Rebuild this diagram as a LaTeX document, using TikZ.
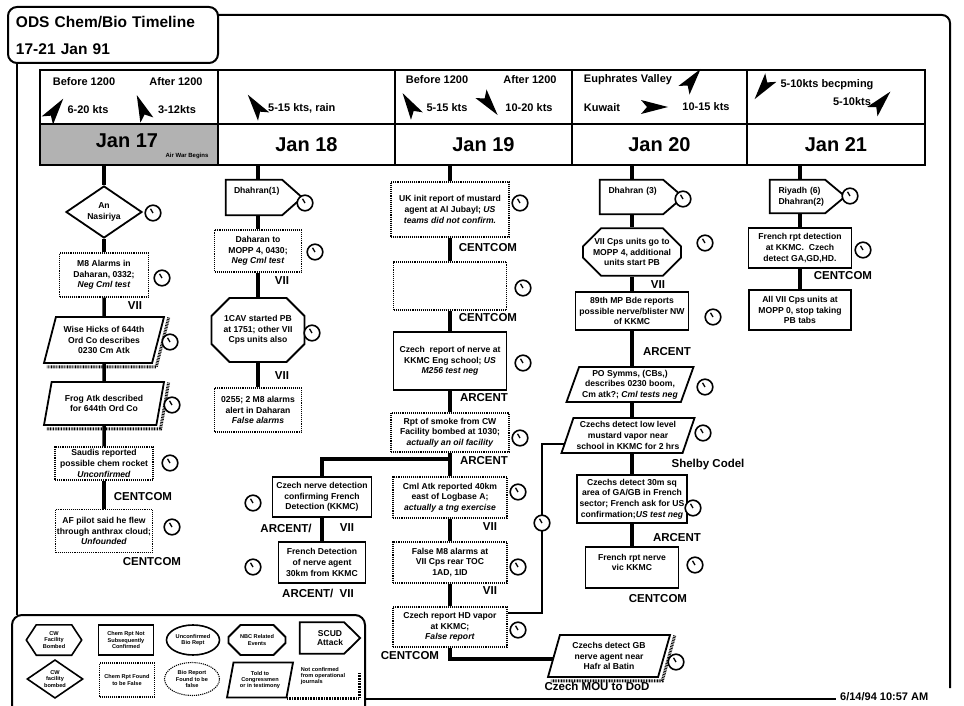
\documentclass[tikz,border=0pt]{standalone}
\usepackage{fontspec}
\setmainfont{Liberation Sans}
\usetikzlibrary{shapes.geometric,shapes.misc}
\newcommand\bxf{\fontsize{8.6}{10.6}\selectfont\bfseries}
\newcommand\lgf{\fontsize{5.6}{6.4}\selectfont\bfseries}
\newcommand\lbf{\fontsize{11.5}{12}\selectfont\bfseries}
\newcommand\hdf{\fontsize{11}{12}\selectfont\bfseries}
\newcommand\jnf{\fontsize{20}{22}\selectfont\bfseries}
\newcommand\ttlf{\fontsize{15.5}{27}\selectfont\bfseries}
\newcommand\pentout[2]{\draw[line width=1.8pt] (#1.north west) -- ([xshift=-#2]#1.north east) -- (#1.east) -- ([xshift=-#2]#1.south east) -- (#1.south west) -- cycle;}
\newcommand\shadowpar[1]{\draw[hatch] ([xshift=3.5pt,yshift=-1.5pt]#1.top right corner) -- ([xshift=3.5pt,yshift=-3pt]#1.bottom right corner) -- ([xshift=4pt,yshift=-3pt]#1.bottom left corner);}
\tikzset{
  conn/.style={line width=3.5pt},
  thinconn/.style={line width=2pt},
  frame/.style={line width=2pt},
  hatch/.style={line width=3pt,dash pattern=on 0.8pt off 0.8pt},
  solidbox/.style={draw,line width=1.8pt,rectangle,inner sep=1pt,align=center,font=\bxf},
  dotbox/.style={draw,line width=1.1pt,densely dotted,rectangle,inner sep=1pt,align=center,font=\bxf},
  para/.style={draw,line width=1.8pt,trapezium,trapezium left angle=68,trapezium right angle=112,trapezium stretches body,inner sep=1pt,align=center,font=\bxf},
  octo/.style={draw,line width=1.8pt,chamfered rectangle,chamfered rectangle xsep=9pt,chamfered rectangle ysep=9pt,inner sep=1pt,align=center,font=\bxf},
  pentnode/.style={rectangle,inner sep=2pt,align=left,font=\bxf},
  lbl/.style={inner sep=0pt,font=\lbf},
  hdr/.style={inner sep=0pt,font=\hdf},
  cell/.style={draw,line width=1.8pt,rectangle,inner sep=0pt,font=\jnf},
  clock/.pic={\draw[line width=1.6pt,fill=white] (0,0) circle[radius=7.8]; \draw[line width=1.3pt] (0,0) -- (-2.5,-4.2);},
  wind/.pic={\fill (14,0) -- (-13,-7) -- (-7,0) -- (-13,7) -- cycle;},
}
\begin{document}
\begin{tikzpicture}[x=1pt,y=-1pt]
\useasboundingbox (0,0) rectangle (964,706);
% ---------- frame and title ----------
\node[draw,line width=2pt,rounded corners=9,minimum width=210,minimum height=56,align=left,text width=194,inner sep=7pt,font=\ttlf] (title) at (113,35) {ODS Chem/Bio Timeline\\17-21 Jan 91};
\draw[frame,rounded corners=8] (218,15) -- (950,15) -- (950,688);
\draw[frame] (17,63) -- (17,615);
\draw[frame] (365,699) -- (836,699);
\node[anchor=west,inner sep=0pt,font=\fontsize{11}{12}\selectfont\bfseries] (ts) at (840,697) {6/14/94 10:57 AM};
% ---------- header table ----------
\node[cell,minimum width=178,minimum height=54] (w17) at (129,97) {};
\node[cell,minimum width=177,minimum height=54] (w18) at (306.5,97) {};
\node[cell,minimum width=177,minimum height=54] (w19) at (483.5,97) {};
\node[cell,minimum width=175,minimum height=54] (w20) at (659.5,97) {};
\node[cell,minimum width=178,minimum height=54] (w21) at (836,97) {};
\node[cell,minimum width=178,minimum height=41,fill=black!30] (d17) at (129,144.5) {};
\node[cell,minimum width=177,minimum height=41] (d18) at (306.5,144.5) {Jan 18};
\node[cell,minimum width=177,minimum height=41] (d19) at (483.5,144.5) {Jan 19};
\node[cell,minimum width=175,minimum height=41] (d20) at (659.5,144.5) {Jan 20};
\node[cell,minimum width=178,minimum height=41] (d21) at (836,144.5) {Jan 21};
\node[inner sep=0pt,font=\jnf] (j17) at (127,141) {Jan 17};
\node[inner sep=0pt,font=\fontsize{6}{7}\selectfont\bfseries] (awb) at (187,156) {Air War Begins};
% weather
\node[hdr] (b17) at (84,82) {Before 1200};
\node[hdr] (a17) at (176,82) {After 1200};
\node[hdr] (k17a) at (88,110) {6-20 kts};
\node[hdr] (k17b) at (177,110) {3-12kts};
\pic[rotate=54] at (55,110) {wind};
\pic[rotate=112] at (142,108) {wind};
\node[hdr,anchor=west] (k18) at (268,108) {5-15 kts, rain};
\pic[rotate=126] at (256,106) {wind};
\node[hdr] (b19) at (437,80) {Before 1200};
\node[hdr] (a19) at (530,80) {After 1200};
\node[hdr] (k19a) at (447,108) {5-15 kts};
\node[hdr] (k19b) at (529,108) {10-20 kts};
\pic[rotate=122] at (410,105) {wind};
\pic[rotate=-52] at (489,104) {wind};
\node[hdr] (eu) at (628,80) {Euphrates Valley};
\node[hdr] (kw) at (602,108) {Kuwait};
\node[hdr] (k20) at (706,107) {10-15 kts};
\pic[rotate=52] at (692,80) {wind};
\pic[rotate=0] at (654,107) {wind};
\node[hdr] (k21a) at (827,85) {5-10kts becpming};
\node[hdr] (k21b) at (852,102) {5-10kts};
\pic[rotate=233] at (763,88) {wind};
\pic[rotate=48] at (881,102) {wind};
% ---------- column Jan 17 ----------
\node[diamond,draw,line width=1.8pt,minimum width=76,minimum height=52,inner sep=0pt,align=center,font=\bxf] (an) at (104,212) {An\\Nasiriya};
\node[dotbox,minimum width=89,minimum height=44] (m8) at (104,275) {M8 Alarms in\\Daharan, 0332;\\\textit{Neg Cml test}};
\node[lbl] (vii1) at (135,306) {VII};
\node[para,minimum width=120,minimum height=46] (wise) at (104,340) {Wise Hicks of 644th\\Ord Co describes\\0230 Cm Atk};
\node[para,minimum width=120,minimum height=43] (frog) at (104,403.5) {Frog Atk described\\for 644th Ord Co};
\node[dotbox,minimum width=98,minimum height=33] (saudi) at (104,463.5) {Saudis reported\\possible chem rocket\\\textit{Unconfirmed}};
\node[lbl] (cc1) at (143,497) {CENTCOM};
\node[dotbox,minimum width=97,minimum height=43] (af) at (104,531) {AF pilot said he flew\\through anthrax cloud;\\\textit{Unfounded}};
\node[lbl] (cc2) at (152,562) {CENTCOM};
\shadowpar{wise}
\shadowpar{frog}
\draw[conn] (an.north |- d17.south) -- (an.north);
\draw[conn] (an.south) -- (m8.north);
\draw[conn] (m8.south) -- (wise.north);
\draw[conn] (wise.south) -- (frog.north);
\draw[conn] (frog.south) -- (saudi.north);
\draw[conn] (saudi.south) -- (af.north);
% ---------- column Jan 18 ----------
\node[pentnode,minimum width=76,minimum height=35,text width=60] (dh1) at (264,197.5) {Dhahran(1)\\[3pt]\mbox{}};
\pentout{dh1}{20}
\node[dotbox,minimum width=87,minimum height=42] (dm) at (258,251) {Daharan to\\MOPP 4, 0430;\\\textit{Neg Cml test}};
\node[lbl] (vii2) at (282,281) {VII};
\node[octo,minimum width=93,minimum height=64] (cav) at (258,330) {1CAV started PB\\at 1751; other VII\\Cps units also};
\node[lbl] (vii3) at (282,376) {VII};
\node[dotbox,minimum width=87,minimum height=44] (m8b) at (258,410) {0255; 2 M8 alarms\\alert in Daharan\\\textit{False alarms}};
\draw[conn] (dm.north |- d18.south) -- (dm.north |- dh1.north);
\draw[conn] (dm.north |- dh1.south) -- (dm.north);
\draw[conn] (dm.south) -- (cav.north);
\draw[conn] (cav.south) -- (m8b.north);
% ---------- column Jan 19 ----------
\node[dotbox,minimum width=118,minimum height=55] (uk) at (450,209.5) {UK init report of mustard\\agent at Al Jubayl; \textit{US}\\\textit{teams did not confirm.}};
\node[lbl] (cc3) at (488,248) {CENTCOM};
\node[dotbox,minimum width=113,minimum height=48] (empty) at (450,286) {};
\node[lbl] (cc4) at (488,318) {CENTCOM};
\node[solidbox,minimum width=113,minimum height=58] (czr) at (450,361) {Czech\ \ report of nerve at\\KKMC Eng school; \textit{US}\\\textit{M256 test neg}};
\node[lbl] (ar1) at (484,398) {ARCENT};
\node[dotbox,minimum width=118,minimum height=39] (smoke) at (450,432.5) {Rpt of smoke from CW\\Facility bombed at 1030;\\\textit{actually an oil facility}};
\node[lbl] (ar2) at (484,461) {ARCENT};
\node[dotbox,minimum width=114,minimum height=41] (cml) at (450,497.5) {Cml Atk reported 40km\\east of Logbase A;\\\textit{actually a tng exercise}};
\node[lbl] (vii4) at (490,527) {VII};
\node[dotbox,minimum width=114,minimum height=41] (fm8) at (450,562.5) {False M8 alarms at\\VII Cps rear TOC\\1AD, 1ID};
\node[lbl] (vii5) at (490,591) {VII};
\node[dotbox,minimum width=114,minimum height=40] (hd) at (450,627) {Czech report HD vapor\\at KKMC;\\\textit{False report}};
\node[lbl] (cc5) at (410,656) {CENTCOM};
\draw[conn] (uk.north |- d19.south) -- (uk.north);
\draw[conn] (uk.south) -- (empty.north);
\draw[conn] (empty.south) -- (czr.north);
\draw[conn] (czr.south) -- (smoke.north);
\draw[conn] (smoke.south) -- (cml.north);
\draw[conn] (cml.south) -- (fm8.north);
\draw[conn] (fm8.south) -- (hd.north);
% branch to Czech nerve detection
\node[solidbox,minimum width=99,minimum height=40] (czn) at (322,497) {Czech nerve detection\\confirming French\\Detection (KKMC)};
\node[lbl] (ar3) at (286,528) {ARCENT/};
\node[lbl] (vii6) at (347,528) {VII};
\node[solidbox,minimum width=87,minimum height=41] (frd) at (322,562.5) {French Detection\\of nerve agent\\30km from KKMC};
\node[lbl] (ar4) at (318,593) {ARCENT/\ \ VII};
\coordinate (j1) at (450,459);
\draw[conn] (j1) -| (czn.north);
\draw[conn] (czn.south) -- (frd.north);
% Czech GB
\node[para,minimum width=122,minimum height=42] (gb) at (609,656) {Czechs detect GB\\nerve agent near\\Hafr al Batin};
\shadowpar{gb}
\node[lbl] (mou) at (597,686) {Czech MOU to DoD};
\draw[conn] ([yshift=-3pt]hd.south) |- ([yshift=-3pt]gb.west);
\draw[conn] (hd.south) -- ([yshift=-3pt]hd.south);
% ---------- column Jan 20 ----------
\node[pentnode,minimum width=83,minimum height=34,text width=66] (dh3) at (641.5,197) {Dhahran (3)\\[3pt]\mbox{}};
\pentout{dh3}{20}
\node[octo,minimum width=97,minimum height=45] (vcps) at (632,252) {VII Cps units go to\\MOPP 4, additional\\units start PB};
\node[lbl] (vii7) at (658,285) {VII};
\node[solidbox,minimum width=113,minimum height=38] (mp) at (632,311) {89th MP Bde reports\\possible nerve/blister NW\\of KKMC};
\node[lbl] (ar5) at (667,352) {ARCENT};
\node[para,minimum width=127,minimum height=35] (po) at (630,384.5) {PO Symms, (CBs,)\\describes 0230 boom,\\Cm atk?; \textit{Cml tests neg}};
\node[para,minimum width=133,minimum height=35] (low) at (628,435.5) {Czechs detect low level\\mustard vapor near\\school in KKMC for 2 hrs};
\node[lbl] (sc) at (708,465) {Shelby Codel};
\node[solidbox,minimum width=110,minimum height=48] (cz30) at (632,499) {Czechs detect 30m sq\\area of GA/GB in French\\sector; French ask for US\\confirmation;\textit{US test neg}};
\node[lbl] (ar6) at (677,538) {ARCENT};
\node[solidbox,minimum width=93,minimum height=41] (frn) at (632,567.5) {French rpt nerve\\vic KKMC\\\mbox{}};
\node[lbl] (cc6) at (658,599) {CENTCOM};
\draw[conn] (vcps.north |- d20.south) -- (vcps.north |- dh3.north);
\draw[conn] (vcps.north |- dh3.south) -- (vcps.north);
\draw[conn] (vcps.south) -- (mp.north);
\draw[conn] (mp.south) -- (mp.south |- po.north);
\draw[conn] (mp.south |- po.south) -- (mp.south |- low.north);
\draw[conn] (mp.south |- low.south) -- (cz30.north);
\draw[conn] (cz30.south) -- (frn.north);
\coordinate (b2) at (542,530);
\draw[thinconn] ([yshift=-8pt,xshift=-3pt]low.west) -| (b2) |- ([yshift=14pt]hd.east);
% ---------- column Jan 21 ----------
\node[pentnode,minimum width=75,minimum height=33,text width=58] (rd) at (807.5,196.5) {Riyadh (6)\\Dhahran(2)};
\pentout{rd}{20}
\node[solidbox,minimum width=103,minimum height=40] (frdet) at (800,248) {French rpt detection\\at KKMC.\ \ Czech\\detect GA,GD,HD.};
\node[lbl] (cc7) at (843,276) {CENTCOM};
\node[solidbox,minimum width=102,minimum height=40] (allvii) at (800,310) {All VII Cps units at\\MOPP 0, stop taking\\PB tabs};
\draw[conn] (frdet.north |- d21.south) -- (frdet.north |- rd.north);
\draw[conn] (frdet.north |- rd.south) -- (frdet.north);
\draw[conn] (frdet.south) -- (allvii.north);
% ---------- clocks ----------
\foreach \p in {(153,213),(162,278),(170,342),(172,405),(170,463),(172,527),
  (305,203),(315,252),(312,333),
  (520,203),(523,288),(523,363),(520,438),(518,492),(518,567),(518,630),
  (253,503),(253,567),
  (683,199),(705,243),(713,317),(705,387),(703,433),(693,508),(695,565),(542,523),(676,662),
  (850,196),(863,250)}
  \pic at \p {clock};
% ---------- legend ----------
\draw[frame,rounded corners=10] (12,706) -- (12,615) -- (365,615) -- (365,706);
\node[inner sep=0pt,minimum width=55,minimum height=30,align=center,font=\lgf] (l1) at (54,640) {CW\\Facility\\Bombed};
\draw[line width=1.6pt] (l1.west) -- ([xshift=10]l1.north west) -- ([xshift=-10]l1.north east) -- (l1.east) -- ([xshift=-10]l1.south east) -- ([xshift=10]l1.south west) -- cycle;
\node[solidbox,minimum width=55,minimum height=30,font=\lgf] (l2) at (126,640) {Chem Rpt Not\\Subsequently\\Confirmed};
\node[ellipse,draw,line width=1.6pt,minimum width=53,minimum height=30,inner sep=0pt,align=center,font=\lgf] (l3) at (193,640) {Unconfirmed\\Bio Rept};
\node[octo,chamfered rectangle xsep=6pt,chamfered rectangle ysep=6pt,minimum width=57,minimum height=30,font=\lgf] (l4) at (257,640) {NBC Related\\Events};
\node[pentnode,minimum width=60,minimum height=31,text width=44,font=\fontsize{8.5}{9.5}\selectfont\bfseries,align=center] (l5) at (330,638) {SCUD\\Attack};
\pentout{l5}{16}
\node[diamond,draw,line width=1.6pt,minimum width=56,minimum height=37,inner sep=0pt,align=center,font=\lgf] (l6) at (55,679) {CW\\facility\\bombed};
\node[dotbox,minimum width=55,minimum height=34,font=\lgf] (l7) at (127,680) {Chem Rpt Found\\to be False};
\node[ellipse,draw,line width=1.1pt,densely dotted,minimum width=55,minimum height=33,inner sep=0pt,align=center,font=\lgf] (l8) at (192,679) {Bio Report\\Found to be\\false};
\node[para,trapezium left angle=72,trapezium right angle=108,minimum width=66,minimum height=35,font=\lgf] (l9) at (260,680) {Told to\\Congressmen\\or in testimony};
\node[inner sep=0pt,align=left,font=\lgf] (l10) at (323,676) {Not confirmed\\from operational\\journals};
\draw[hatch] (359,673) -- (359,698) -- (287,698);
\end{tikzpicture}
\end{document}
